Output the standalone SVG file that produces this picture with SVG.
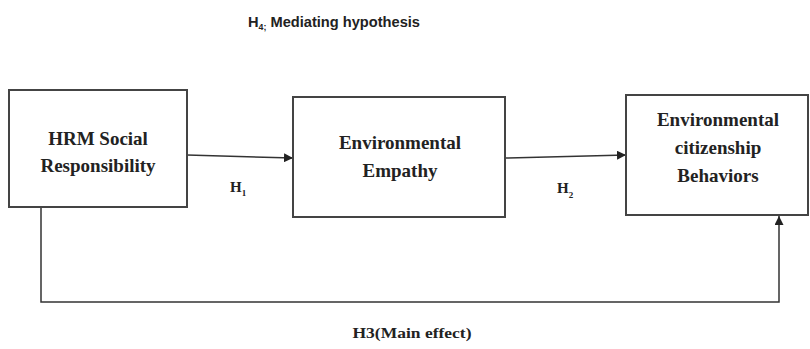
<svg xmlns="http://www.w3.org/2000/svg" width="810" height="349" viewBox="0 0 810 349">
<defs>
<style>
.box{fill:#fff;stroke:#444;stroke-width:2}
.lbl{font-family:'Liberation Serif','DejaVu Serif','Times New Roman',serif;font-weight:bold;font-size:19px;fill:#222;text-anchor:middle}
.h{font-family:'Liberation Serif','DejaVu Serif','Times New Roman',serif;font-weight:bold;font-size:15px;fill:#222}
.sub{font-size:9px}
.con{fill:none;stroke:#333;stroke-width:1.5}
.top{font-family:'Liberation Sans Narrow','Liberation Sans',sans-serif;font-weight:bold;font-size:15px;fill:#222}
</style>
<marker id="arr" viewBox="0 0 10 10" refX="10" refY="5" markerWidth="9" markerHeight="9" orient="auto" markerUnits="userSpaceOnUse">
<path d="M0,0 L10,5 L0,10 z" fill="#222"/>
</marker>
</defs>
<rect width="810" height="349" fill="#fff"/>
<text class="top" x="248" y="27" textLength="172" lengthAdjust="spacingAndGlyphs">H<tspan class="sub" dy="3">4;</tspan><tspan dy="-3"> Mediating hypothesis</tspan></text>
<g id="connectors">
<line class="con" x1="187" y1="155" x2="293" y2="158" marker-end="url(#arr)"/>
<line class="con" x1="505" y1="158" x2="626" y2="155" marker-end="url(#arr)"/>
<polyline class="con" points="41,208 41,302 779,302 779,216" marker-end="url(#arr)"/>
</g>
<g id="hrm">
<rect class="box" x="9" y="90" width="178" height="117"/>
<text class="lbl" x="98" y="145">HRM Social</text>
<text class="lbl" x="98" y="172">Responsibility</text>
</g>
<g id="empathy">
<rect class="box" x="293" y="97" width="212" height="120"/>
<text class="lbl" x="400" y="149">Environmental</text>
<text class="lbl" x="400" y="177">Empathy</text>
</g>
<g id="ecb">
<rect class="box" x="626" y="95" width="182" height="120"/>
<text class="lbl" x="718" y="126">Environmental</text>
<text class="lbl" x="718" y="154">citizenship</text>
<text class="lbl" x="718" y="182">Behaviors</text>
</g>
<text class="h" x="230" y="192">H<tspan class="sub" dy="4">1</tspan></text>
<text class="h" x="557" y="193">H<tspan class="sub" dy="5">2</tspan></text>
<text class="h" x="412" y="338" text-anchor="middle" font-size="17" textLength="119" lengthAdjust="spacingAndGlyphs">H3(Main effect)</text>
</svg>
